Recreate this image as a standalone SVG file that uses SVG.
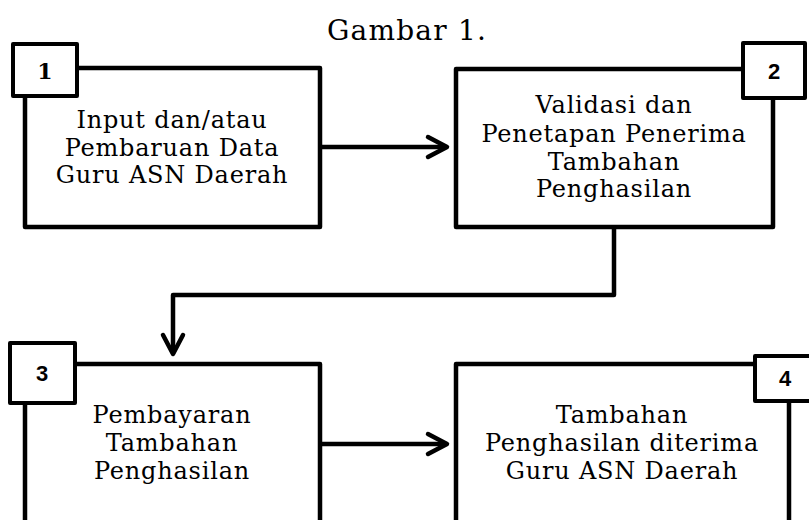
<svg xmlns="http://www.w3.org/2000/svg" width="809" height="520" viewBox="0 0 809 520">
<style>
.box{fill:#fff;stroke:#000;stroke-width:4.5;stroke-linejoin:round}
.tag{fill:#fff;stroke:#000;stroke-width:4;stroke-linejoin:round}
.t{font-family:"DejaVu Serif","Liberation Serif",serif;font-size:24px;letter-spacing:0.8px;fill:#000;text-anchor:middle}
.n{font-family:"Liberation Sans",Arial,sans-serif;font-size:22px;font-weight:bold;fill:#000;text-anchor:middle}
.c{fill:none;stroke:#000;stroke-width:4.5;stroke-linecap:round;stroke-linejoin:round}
</style>
<rect width="809" height="520" fill="#fff"/>
<text class="t" x="407" y="40" style="font-size:28px;letter-spacing:1.2px">Gambar 1.</text>
<g id="node1">
<rect class="box" x="25" y="68" width="295" height="159"/>
<rect class="tag" x="13" y="44" width="64" height="52"/>
<text class="n" x="45" y="79" style="font-family:'DejaVu Serif',serif">1</text>
<text class="t" x="172" y="128">Input dan/atau</text>
<text class="t" x="172" y="156">Pembaruan Data</text>
<text class="t" x="172" y="183">Guru ASN Daerah</text>
</g>
<g id="node2">
<rect class="box" x="456" y="69" width="317" height="158"/>
<rect class="tag" x="743" y="43" width="62" height="55"/>
<text class="n" x="774" y="79">2</text>
<text class="t" x="614" y="113">Validasi dan</text>
<text class="t" x="614" y="142">Penetapan Penerima</text>
<text class="t" x="614" y="170">Tambahan</text>
<text class="t" x="614" y="197">Penghasilan</text>
</g>
<g id="node3">
<rect class="box" x="25" y="364" width="295" height="180"/>
<rect class="tag" x="10" y="343" width="65" height="60"/>
<text class="n" x="42" y="381">3</text>
<text class="t" x="172" y="423">Pembayaran</text>
<text class="t" x="172" y="451">Tambahan</text>
<text class="t" x="172" y="479">Penghasilan</text>
</g>
<g id="node4">
<rect class="box" x="456" y="364" width="333" height="180"/>
<rect class="tag" x="755" y="356" width="60" height="45"/>
<text class="n" x="785" y="386">4</text>
<text class="t" x="622" y="423">Tambahan</text>
<text class="t" x="622" y="451">Penghasilan diterima</text>
<text class="t" x="622" y="479">Guru ASN Daerah</text>
</g>
<g id="connectors">
<path class="c" d="M322 147 H446"/>
<polyline class="c" points="428,137 447,147 428,157"/>
<path class="c" d="M614 229 V295 H173 V353"/>
<polyline class="c" points="163,335 173,354 183,335"/>
<path class="c" d="M322 444 H446"/>
<polyline class="c" points="428,434 447,444 428,454"/>
</g>
</svg>
